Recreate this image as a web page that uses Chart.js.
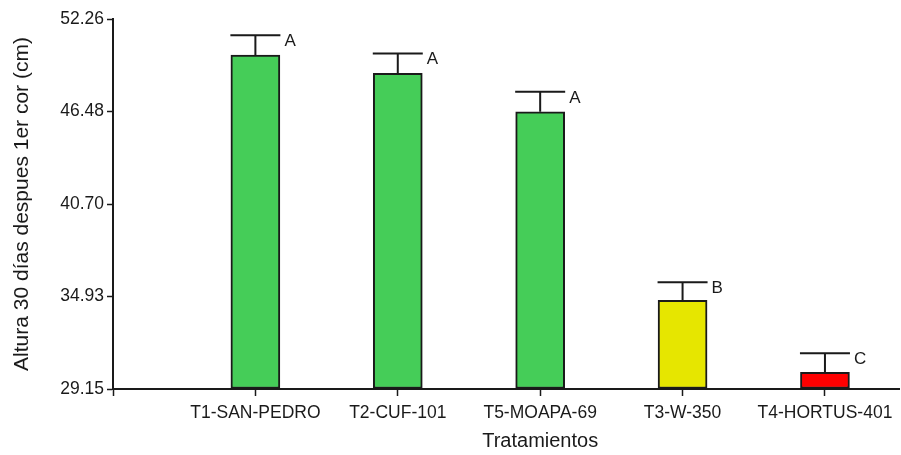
<!DOCTYPE html>
<html>
<head>
<meta charset="utf-8">
<script src="https://cdn.jsdelivr.net/npm/chart.js@4/dist/chart.umd.min.js"></script>
<style>
  html, body { margin: 0; padding: 0; background: #fff; overflow: hidden; }
  #wrap { width: 901px; height: 455px; position: relative; }
</style>
</head>
<body>
<div id="wrap"><canvas id="c"></canvas></div>
<script>
// Treatment names, in plotted order
const categories = ['T1-SAN-PEDRO', 'T2-CUF-101', 'T5-MOAPA-69', 'T3-W-350', 'T4-HORTUS-401'];
// Mean plant height 30 days after first cut (cm)
const heights = [50.00, 48.86, 46.46, 34.69, 30.19];
// Standard error of each mean (cm)
const errors = [1.25, 1.25, 1.25, 1.13, 1.20];
// Significance groups
const groups = ['A', 'A', 'A', 'B', 'C'];
const barColors = ['#45cd58', '#45cd58', '#45cd58', '#e6e600', '#ff0000'];
// Y axis tick values
const yTicks = [29.15, 34.93, 40.70, 46.48, 52.26];

const yTitle = 'Altura 30 días despues 1er cor (cm)';
const xTitle = 'Tratamientos';

const FONT = "'Liberation Sans', Arial, sans-serif";
const INK = '#1a1a1a';

// Error bars, group letters and the x axis title
const annotate = {
  id: 'annotate',
  afterDatasetsDraw(chart) {
    const { ctx, scales: { x, y } } = chart;
    ctx.save();
    ctx.strokeStyle = INK;
    ctx.lineWidth = 2;
    ctx.fillStyle = INK;
    ctx.font = '17px ' + FONT;
    ctx.textAlign = 'left';
    ctx.textBaseline = 'middle';
    heights.forEach((h, i) => {
      const cx = x.getPixelForValue(i + 1);
      const yb = y.getPixelForValue(h);
      const yt = y.getPixelForValue(h + errors[i]);
      ctx.beginPath();
      ctx.moveTo(cx, yb);
      ctx.lineTo(cx, yt);
      ctx.moveTo(cx - 25, yt);
      ctx.lineTo(cx + 25, yt);
      ctx.stroke();
      ctx.fillText(groups[i], cx + 29, yt + 6);
    });
    ctx.font = '20px ' + FONT;
    ctx.textAlign = 'center';
    ctx.fillText(xTitle, x.getPixelForValue(3), 441);
    ctx.restore();
  }
};

new Chart(document.getElementById('c'), {
  type: 'bar',
  data: {
    datasets: [{
      data: categories.map((c, i) => ({ x: i + 1, y: heights[i] })),
      backgroundColor: barColors,
      borderColor: INK,
      borderWidth: 2,
      borderSkipped: false,
      barThickness: 49,
      base: yTicks[0]
    }]
  },
  options: {
    responsive: true,
    maintainAspectRatio: false,
    animation: false,
    layout: { padding: { top: 19, right: 2, left: 0, bottom: 0 } },
    plugins: { legend: { display: false }, tooltip: { enabled: false } },
    scales: {
      x: {
        type: 'linear',
        offset: false,
        min: 0,
        max: 5.52,
        afterBuildTicks: s => { s.ticks = [0, 1, 2, 3, 4, 5].map(v => ({ value: v })); },
        afterFit: s => { s.height = 66; },
        ticks: {
          autoSkip: false,
          maxRotation: 0,
          padding: 7,
          color: INK,
          font: { family: FONT, size: 17.5 },
          callback: v => (v >= 1 ? categories[v - 1] : '')
        },
        grid: { display: true, offset: false, drawOnChartArea: false, drawTicks: true, tickLength: 7, tickColor: INK, tickWidth: 1.5 },
        border: { display: true, color: INK, width: 2 }
      },
      y: {
        min: yTicks[0],
        max: yTicks[yTicks.length - 1],
        afterBuildTicks: s => { s.ticks = yTicks.map(v => ({ value: v })); },
        afterFit: s => { s.width = 113; },
        ticks: {
          padding: 3,
          color: INK,
          font: { family: FONT, size: 17.5 },
          callback: v => v.toFixed(2)
        },
        grid: { display: true, drawOnChartArea: false, drawTicks: true, tickLength: 6, tickColor: INK, tickWidth: 1.5 },
        border: { display: true, color: INK, width: 2 },
        title: {
          display: true,
          text: yTitle,
          color: INK,
          font: { family: FONT, size: 21 },
          padding: { top: 10, bottom: 0 }
        }
      }
    }
  },
  plugins: [annotate]
});
</script>
</body>
</html>
